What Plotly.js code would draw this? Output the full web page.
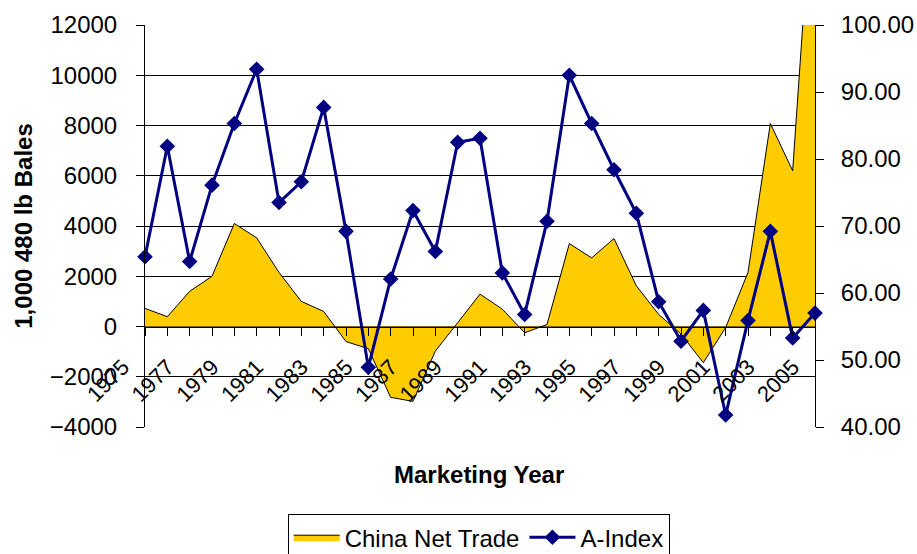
<!DOCTYPE html>
<html>
<head>
<meta charset="utf-8">
<script src="https://cdn.plot.ly/plotly-3.0.1.min.js"></script>
<style>
  html, body { margin: 0; padding: 0; background: #fff; }
  #chart { width: 917px; height: 554px; }
</style>
</head>
<body>
<div id="chart"></div>
<script>
// Marketing years (x categories)
const years = [1975, 1976, 1977, 1978, 1979, 1980, 1981, 1982, 1983, 1984,
               1985, 1986, 1987, 1988, 1989, 1990, 1991, 1992, 1993, 1994,
               1995, 1996, 1997, 1998, 1999, 2000, 2001, 2002, 2003, 2004, 2005];

// China net trade, 1,000 480 lb bales (left axis)
const chinaNetTrade = [720, 390, 1400, 2000, 4100, 3530, 2150, 1000, 600, -600,
                       -880, -2820, -2980, -980, 150, 1290, 690, -250, 80, 3300,
                       2730, 3500, 1620, 480, -300, -1440, -40, 2150, 8080, 6200, 19000];

// A-Index, cents/lb (right axis)
const aIndex = [65.4, 81.9, 64.7, 76.1, 85.3, 93.4, 73.5, 76.6, 87.7, 69.2,
                48.9, 62.1, 72.3, 66.2, 82.5, 83.1, 63.0, 56.8, 70.7, 92.5,
                85.3, 78.4, 71.9, 58.7, 52.8, 57.4, 41.8, 55.9, 69.2, 53.3, 57.0];

// X tick labels (every other year)
const xTickLabels = ['1975', '1977', '1979', '1981', '1983', '1985', '1987', '1989',
                     '1991', '1993', '1995', '1997', '1999', '2001', '2003', '2005'];

const FONT = 'Liberation Sans, Arial, sans-serif';

const traces = [
  {
    type: 'scatter',
    mode: 'lines',
    name: 'China Net Trade',
    x: years,
    y: chinaNetTrade,
    fill: 'tozeroy',
    fillcolor: '#FFCC00',
    line: { color: '#000000', width: 1 },
    xaxis: 'x',
    yaxis: 'y'
  },
  {
    type: 'scatter',
    mode: 'lines+markers',
    name: 'A-Index',
    x: years,
    y: aIndex,
    line: { color: '#000080', width: 3 },
    marker: { symbol: 'diamond', size: 12, color: '#000080' },
    cliponaxis: false,
    xaxis: 'x',
    yaxis: 'y2'
  }
];

const layout = {
  width: 917,
  height: 554,
  margin: { l: 145, r: 102, t: 25, b: 127, pad: 0, autoexpand: false },
  paper_bgcolor: '#ffffff',
  plot_bgcolor: '#ffffff',
  font: { family: FONT, color: '#000000', size: 24 },
  showlegend: true,
  legend: {
    orientation: 'h',
    xref: 'container',
    yref: 'container',
    x: 0.522,
    xanchor: 'center',
    y: 0.072,
    yanchor: 'top',
    bordercolor: '#000000',
    borderwidth: 1,
    bgcolor: '#ffffff',
    itemwidth: 46,
    font: { family: FONT, size: 24, color: '#000000' },
    traceorder: 'normal'
  },
  xaxis: {
    type: 'linear',
    range: [1975, 2005],
    tickmode: 'array',
    tickvals: xTickLabels.map(Number),
    ticktext: xTickLabels,
    tickangle: -45,
    ticks: 'outside',
    ticklen: 8,
    tickcolor: '#000000',
    ticklabelshift: -22,
    ticklabelstandoff: 10,
    tickfont: { family: FONT, size: 22, color: '#000000' },
    minor: { dtick: 1, tick0: 1975, ticks: 'outside', ticklen: 8, tickcolor: '#000000', showgrid: false },
    showgrid: false,
    zeroline: false,
    showline: true,
    linecolor: '#000000',
    linewidth: 1,
    anchor: 'free',
    position: 0.25,
    automargin: false
  },
  yaxis: {
    range: [-4000, 12000],
    dtick: 2000,
    tick0: 0,
    tickformat: 'd',
    ticks: 'outside',
    ticklen: 8,
    tickcolor: '#000000',
    ticklabelstandoff: 14,
    tickfont: { family: FONT, size: 24, color: '#000000' },
    showgrid: true,
    gridcolor: '#000000',
    gridwidth: 1,
    zeroline: false,
    showline: true,
    linecolor: '#000000',
    linewidth: 1,
    automargin: false,
    title: {
      text: '1,000 480 lb Bales',
      font: { family: FONT, size: 24, color: '#000000', weight: 'bold' },
      standoff: 10
    }
  },
  yaxis2: {
    overlaying: 'y',
    side: 'right',
    range: [40, 100],
    dtick: 10,
    tickformat: '.2f',
    ticks: 'outside',
    ticklen: 8,
    tickcolor: '#000000',
    ticklabelstandoff: 12,
    tickfont: { family: FONT, size: 24, color: '#000000' },
    showgrid: false,
    zeroline: false,
    showline: true,
    linecolor: '#000000',
    linewidth: 1,
    automargin: false
  },
  annotations: [
    {
      text: '<b>Marketing Year</b>',
      xref: 'paper',
      yref: 'paper',
      x: 0.4985,
      y: -0.117,
      xanchor: 'center',
      yanchor: 'middle',
      showarrow: false,
      font: { family: FONT, size: 24, color: '#000000' }
    }
  ]
};

Plotly.newPlot('chart', traces, layout, { displayModeBar: false, staticPlot: true });
</script>
</body>
</html>
